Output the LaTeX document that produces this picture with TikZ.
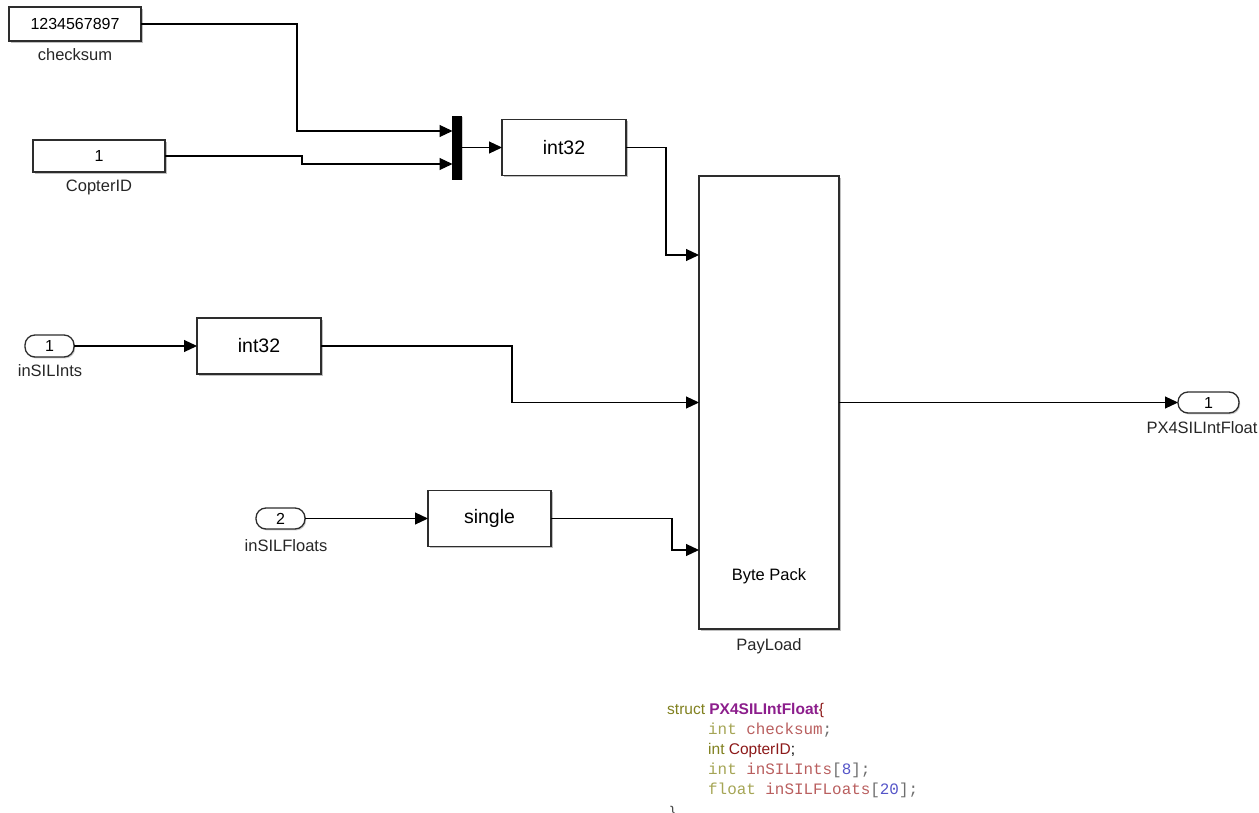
\documentclass[tikz,border=0pt]{standalone}
\usepackage{fontspec}
\setmainfont{Liberation Sans}
\setmonofont{Liberation Mono}
\usetikzlibrary{arrows.meta,shadows,calc}
\definecolor{kwolive}{RGB}{128,128,30}
\definecolor{kwlight}{RGB}{165,165,85}
\definecolor{stpurple}{RGB}{140,30,140}
\definecolor{iddark}{RGB}{140,25,25}
\definecolor{idlight}{RGB}{185,95,95}
\definecolor{numblue}{RGB}{85,85,200}
\definecolor{punct}{RGB}{110,110,110}
\definecolor{edge}{RGB}{45,45,45}
\begin{document}
\begin{tikzpicture}[x=1pt,y=-1pt,
  blk/.style={draw=edge, line width=1.3pt, fill=white, inner sep=0pt, outer sep=0pt,
    drop shadow={shadow xshift=1.6pt, shadow yshift=-1.8pt, fill=black!45, opacity=0.55},
    font=\fontsize{19.5}{23}\selectfont},
  cst/.style={blk, font=\fontsize{16}{19}\selectfont},
  port/.style={draw=edge, line width=1.3pt, fill=white, inner sep=0pt, outer sep=0pt,
    rounded corners=10pt, font=\fontsize{16}{19}\selectfont,
    drop shadow={shadow xshift=1.2pt, shadow yshift=-1.4pt, fill=black!40, opacity=0.5}},
  lbl/.style={anchor=base, inner sep=0pt, font=\fontsize{16.5}{19}\selectfont, text=black!85},
  wire/.style={line width=1.1pt, draw=black, -{Triangle[length=13pt,width=12pt]}},
  code/.style={anchor=base west, inner sep=0pt, font=\fontsize{15.5}{18}\selectfont},
  mcode/.style={anchor=base west, inner sep=0pt, font=\fontsize{15.9}{18}\ttfamily}
]
\useasboundingbox (0,0) rectangle (1259,813);

% blocks
\node[cst, minimum width=132pt, minimum height=34pt] (cs) at (75,24) {1234567897};
\node[lbl] (csl) at (75,61) {checksum};
\node[cst, minimum width=132pt, minimum height=32pt] (cid) at (99,156) {1};
\node[lbl] (cidl) at (99,192) {CopterID};

\node[fill=black, draw=black, inner sep=0pt, outer sep=0pt, minimum width=9pt, minimum height=63pt,
  drop shadow={shadow xshift=1.2pt, shadow yshift=-1.4pt, fill=black!40, opacity=0.5}] (mux) at (457,147.5) {};
\node[blk, minimum width=124pt, minimum height=56pt] (c1) at (564,147.5) {int32};

\node[blk, minimum width=140pt, minimum height=453pt] (bp) at (769,402.5) {};
\node[inner sep=0pt, font=\fontsize{16.5}{19}\selectfont] (bpt) at (769,576) {Byte Pack};
\node[lbl] (bpl) at (769,650) {PayLoad};

\node[port, minimum width=49pt, minimum height=22pt] (p1) at (49.5,346) {1};
\node[lbl] (p1l) at (50,376) {inSILInts};
\node[blk, minimum width=124pt, minimum height=56pt] (c2) at (259,346) {int32};

\node[port, minimum width=49pt, minimum height=21pt] (p2) at (280.5,518.5) {2};
\node[lbl] (p2l) at (286,551) {inSILFloats};
\node[blk, minimum width=123pt, minimum height=56pt] (sg) at (489.5,518.5) {single};

\node[port, minimum width=61pt, minimum height=21pt] (po) at (1208.5,402.5) {1};
\node[lbl] (pol) at (1202,433) {PX4SILIntFloat};

% connection points
\coordinate (m1) at ($(mux.west)+(0,-16.5)$);
\coordinate (m2) at ($(mux.west)+(0,16.5)$);
\coordinate (b1) at ($(bp.west)+(0,-147.5)$);
\coordinate (b3) at ($(bp.west)+(0,147.5)$);

% wires
\draw[wire] (cs.east) -- ++(156,0) |- (m1);
\draw[wire] (cid.east) -- ++(137,0) |- (m2);
\draw[wire] (mux.east) -- (c1.west);
\draw[wire] (c1.east) -- ++(40,0) |- (b1);
\draw[wire] (p1.east) -- (c2.west);
\draw[wire] (c2.east) -- ++(191,0) |- (bp.west);
\draw[wire] (p2.east) -- (sg.west);
\draw[wire] (sg.east) -- ++(121,0) |- (b3);
\draw[wire] (bp.east) -- (po.west);

% code text
\node[code] (l0) at (667,714) {\textcolor{kwolive}{struct} \textcolor{stpurple}{\bfseries PX4SILIntFloat}\textcolor{iddark}{\{}};
\node[mcode] (l1) at (708,734) {\textcolor{kwlight}{int} \textcolor{idlight}{checksum}\textcolor{punct}{;}};
\node[code] (l2) at (708,754) {\textcolor{kwolive}{int} \textcolor{iddark}{CopterID}\textcolor{black}{;}};
\node[mcode] (l3) at (708,774) {\textcolor{kwlight}{int} \textcolor{idlight}{inSILInts}\textcolor{punct}{[}\textcolor{numblue}{8}\textcolor{punct}{];}};
\node[mcode] (l4) at (708,794) {\textcolor{kwlight}{float} \textcolor{idlight}{inSILFLoats}\textcolor{punct}{[}\textcolor{numblue}{20}\textcolor{punct}{];}};
\node[code] (l5) at (670,817) {\textcolor{black!70}{\}}};
\end{tikzpicture}
\end{document}
